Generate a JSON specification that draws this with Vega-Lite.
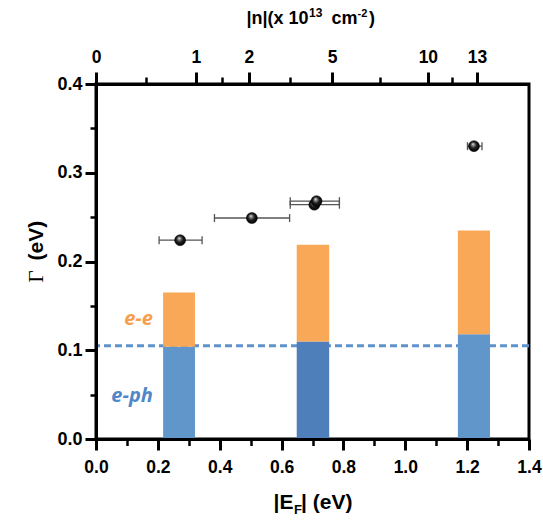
{
  "$schema": "https://vega.github.io/schema/vega-lite/v6.json",
  "width": 433,
  "height": 355,
  "autosize": {"type": "none"},
  "padding": {"left": 96, "top": 84, "right": 14, "bottom": 82},
  "background": "white",
  "config": {
    "view": {"stroke": "black", "strokeWidth": 3},
    "axis": {
      "labelFont": "Liberation Sans",
      "labelFontWeight": "bold",
      "labelFontSize": 17.5,
      "labelColor": "black",
      "titleFont": "Liberation Sans",
      "titleFontWeight": "bold",
      "titleColor": "black",
      "tickColor": "black",
      "domainColor": "black",
      "grid": false,
      "labelFlush": false,
      "labelOverlap": false,
      "labelBound": false
    }
  },
  "datasets": {
    "bars": [
      {"sample": "a", "Elo": 0.217, "Ehi": 0.320, "eph": 0.104, "total": 0.165},
      {"sample": "b", "Elo": 0.649, "Ehi": 0.754, "eph": 0.110, "total": 0.219},
      {"sample": "c", "Elo": 1.170, "Ehi": 1.274, "eph": 0.118, "total": 0.235}
    ],
    "points": [
      {"E": 0.272, "G": 0.224, "Elo": 0.204, "Ehi": 0.343},
      {"E": 0.504, "G": 0.249, "Elo": 0.383, "Ehi": 0.626},
      {"E": 0.706, "G": 0.264, "Elo": 0.628, "Ehi": 0.787},
      {"E": 0.713, "G": 0.268, "Elo": 0.628, "Ehi": 0.787},
      {"E": 1.222, "G": 0.330, "Elo": 1.201, "Ehi": 1.248}
    ],
    "level": [{"G": 0.105}],
    "labels": [
      {"E": 0.184, "G": 0.128, "label": "e-e"},
      {"E": 0.184, "G": 0.042, "label": "e-ph"}
    ]
  },
  "resolve": {
    "scale": {"color": "independent"},
    "axis": {"x": "independent", "y": "independent"}
  },
  "layer": [
    {
      "data": {"name": "level"},
      "mark": {"type": "rule", "stroke": "#5d92cb", "strokeWidth": 3, "strokeDash": [7, 4]},
      "encoding": {
        "y": {
          "field": "G", "type": "quantitative",
          "scale": {"domain": [0, 0.4], "nice": false},
          "axis": {
            "orient": "left",
            "ticks": false, "labels": false, "domain": false,
            "title": ")",
            "titleX": 272.5, "titleY": -61,
            "titleAlign": "left", "titleBaseline": "alphabetic",
            "titleFontSize": 18, "titleAngle": 0
          }
        }
      }
    },
    {
      "data": {"name": "bars"},
      "mark": {"type": "rect"},
      "encoding": {
        "x": {
          "field": "Elo", "type": "quantitative",
          "scale": {"domain": [0, 1.4], "nice": false, "zero": false},
          "axis": {
            "orient": "bottom",
            "values": [0, 0.2, 0.4, 0.6, 0.8, 1.0, 1.2, 1.4],
            "format": ".1f",
            "tickSize": 11, "tickWidth": 3,
            "domain": true, "domainWidth": 3,
            "labelBaseline": "alphabetic", "labelPadding": 22,
            "zindex": 1,
            "title": "|E",
            "titleX": 197, "titleY": 69,
            "titleAlign": "right", "titleBaseline": "alphabetic",
            "titleFontSize": 21, "titleAngle": 0
          }
        },
        "x2": {"field": "Ehi"},
        "y": {
          "field": "eph", "type": "quantitative",
          "scale": {"domain": [0, 0.4], "nice": false},
          "axis": {
            "orient": "left",
            "values": [0, 0.1, 0.2, 0.3, 0.4],
            "format": ".1f",
            "tickSize": 11, "tickWidth": 3,
            "domain": true, "domainWidth": 3,
            "labelPadding": 3,
            "labelFontSize": 18,
            "zindex": 1,
            "title": "Γ",
            "titleFont": "Liberation Serif", "titleFontWeight": "normal",
            "titleFontSize": 21,
            "titleAngle": 270, "titleAlign": "left", "titleBaseline": "alphabetic",
            "titleX": -54, "titleY": 198
          }
        },
        "y2": {"datum": 0},
        "color": {
          "field": "sample", "type": "nominal",
          "scale": {"domain": ["a", "b", "c"], "range": ["#6096ca", "#4f7fbb", "#6096ca"]},
          "legend": null
        }
      }
    },
    {
      "data": {"name": "bars"},
      "mark": {"type": "rect", "color": "#f9a857"},
      "encoding": {
        "x": {
          "field": "Elo", "type": "quantitative",
          "scale": {"domain": [0, 1.4], "nice": false, "zero": false},
          "axis": {
            "orient": "bottom",
            "values": [0.1, 0.3, 0.5, 0.7, 0.9, 1.1, 1.3],
            "tickSize": 6.5, "tickWidth": 2.5,
            "labels": false, "domain": false,
            "zindex": 1,
            "title": "F",
            "titleX": 197.5, "titleY": 74,
            "titleAlign": "left", "titleBaseline": "alphabetic",
            "titleFontSize": 13, "titleAngle": 0
          }
        },
        "x2": {"field": "Ehi"},
        "y": {
          "field": "eph", "type": "quantitative",
          "scale": {"domain": [0, 0.4], "nice": false},
          "axis": {
            "orient": "left",
            "values": [0.05, 0.15, 0.25, 0.35],
            "tickSize": 6, "tickWidth": 2.5,
            "labels": false, "domain": false,
            "zindex": 1,
            "title": "(eV)",
            "titleFontSize": 21,
            "titleAngle": 270, "titleAlign": "left", "titleBaseline": "alphabetic",
            "titleX": -54, "titleY": 176
          }
        },
        "y2": {"field": "total"}
      }
    },
    {
      "data": {"name": "points"},
      "mark": {"type": "rule", "stroke": "#555555", "strokeWidth": 1.3},
      "encoding": {
        "x": {
          "field": "Elo", "type": "quantitative",
          "scale": {"domain": [0, 1.4], "nice": false, "zero": false},
          "axis": {
            "orient": "top",
            "values": [0, 0.323, 0.494, 0.763, 1.073, 1.232],
            "labelExpr": "datum.value < 0.1 ? '0' : datum.value < 0.4 ? '1' : datum.value < 0.6 ? '2' : datum.value < 0.9 ? '5' : datum.value < 1.15 ? '10' : '13'",
            "tickSize": 12, "tickWidth": 3,
            "domain": true, "domainWidth": 3,
            "labelBaseline": "alphabetic", "labelPadding": 10,
            "zindex": 1,
            "title": "|n|(x 10",
            "titleFontSize": 18,
            "titleX": 212, "titleY": -61,
            "titleAlign": "right", "titleBaseline": "alphabetic", "titleAngle": 0
          }
        },
        "x2": {"field": "Ehi"},
        "y": {"field": "G", "type": "quantitative", "scale": {"domain": [0, 0.4], "nice": false}, "axis": null}
      }
    },
    {
      "data": {"name": "points"},
      "mark": {"type": "point", "shape": "M0,-1L0,1", "size": 64, "filled": false, "stroke": "#555555", "strokeWidth": 1.3, "opacity": 1},
      "encoding": {
        "x": {
          "field": "Elo", "type": "quantitative",
          "scale": {"domain": [0, 1.4], "nice": false, "zero": false},
          "axis": {
            "orient": "top",
            "values": [0.1617, 0.4085, 0.6285, 0.918, 1.1525],
            "tickSize": 7, "tickWidth": 2.5,
            "labels": false, "domain": false,
            "zindex": 1,
            "title": "13",
            "titleX": 212.5, "titleY": -68,
            "titleAlign": "left", "titleBaseline": "alphabetic",
            "titleFontSize": 12, "titleAngle": 0
          }
        },
        "y": {"field": "G", "type": "quantitative", "scale": {"domain": [0, 0.4], "nice": false}, "axis": null}
      }
    },
    {
      "data": {"name": "points"},
      "mark": {"type": "point", "shape": "M0,-1L0,1", "size": 64, "filled": false, "stroke": "#555555", "strokeWidth": 1.3, "opacity": 1},
      "encoding": {
        "x": {
          "field": "Ehi", "type": "quantitative",
          "scale": {"domain": [0, 1.4], "nice": false, "zero": false},
          "axis": {
            "orient": "bottom",
            "ticks": false, "labels": false, "domain": false,
            "title": "| (eV)",
            "titleX": 204.5, "titleY": 69,
            "titleAlign": "left", "titleBaseline": "alphabetic",
            "titleFontSize": 21, "titleAngle": 0
          }
        },
        "y": {"field": "G", "type": "quantitative", "scale": {"domain": [0, 0.4], "nice": false}, "axis": null}
      }
    },
    {
      "data": {"name": "points"},
      "mark": {
        "type": "point", "shape": "circle", "size": 121, "filled": true, "opacity": 1,
        "stroke": "#000000", "strokeWidth": 0.5,
        "fill": {
          "gradient": "radial",
          "x1": 0.4, "y1": 0.3, "r1": 0,
          "x2": 0.5, "y2": 0.5, "r2": 0.55,
          "stops": [
            {"offset": 0, "color": "#f2f2f2"},
            {"offset": 0.22, "color": "#8a8a8a"},
            {"offset": 0.55, "color": "#1a1a1a"},
            {"offset": 1, "color": "#000000"}
          ]
        }
      },
      "encoding": {
        "x": {
          "field": "E", "type": "quantitative",
          "scale": {"domain": [0, 1.4], "nice": false, "zero": false},
          "axis": {
            "orient": "top",
            "ticks": false, "labels": false, "domain": false,
            "title": "cm",
            "titleX": 235, "titleY": -61,
            "titleAlign": "left", "titleBaseline": "alphabetic",
            "titleFontSize": 18, "titleAngle": 0
          }
        },
        "y": {"field": "G", "type": "quantitative", "scale": {"domain": [0, 0.4], "nice": false}, "axis": null}
      }
    },
    {
      "data": {"name": "labels"},
      "mark": {"type": "text", "align": "right", "baseline": "alphabetic", "font": "Open Sans", "fontSize": 20, "fontWeight": "bold", "fontStyle": "italic"},
      "encoding": {
        "x": {
          "field": "E", "type": "quantitative",
          "scale": {"domain": [0, 1.4], "nice": false, "zero": false},
          "axis": {
            "orient": "top",
            "ticks": false, "labels": false, "domain": false,
            "title": "-2",
            "titleX": 261, "titleY": -68,
            "titleAlign": "left", "titleBaseline": "alphabetic",
            "titleFontSize": 11, "titleAngle": 0
          }
        },
        "y": {"field": "G", "type": "quantitative", "scale": {"domain": [0, 0.4], "nice": false}, "axis": null},
        "text": {"field": "label"},
        "color": {
          "field": "label", "type": "nominal",
          "scale": {"domain": ["e-e", "e-ph"], "range": ["#f6a04d", "#4f87c8"]},
          "legend": null
        }
      }
    }
  ]
}
